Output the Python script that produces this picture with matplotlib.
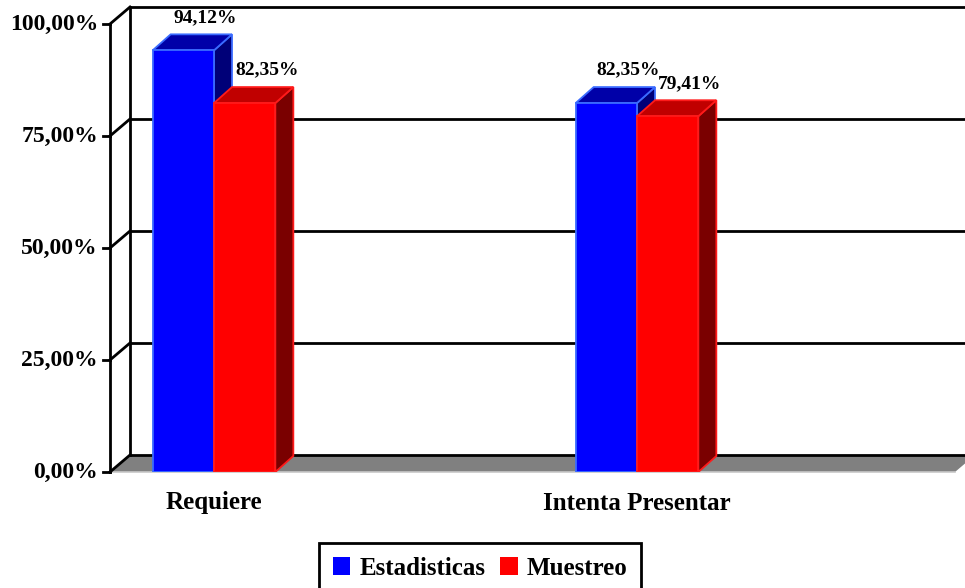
import matplotlib
matplotlib.use("Agg")
import matplotlib.pyplot as plt
from matplotlib.patches import Polygon

# ---- data ----
categories = ["Requiere", "Intenta Presentar"]
estadisticas = [94.12, 82.35]
muestreo = [82.35, 79.41]
series_names = ["Estadisticas", "Muestreo"]
yticks = [0, 25, 50, 75, 100]
ytick_labels = [f"{v:.2f}%".replace(".", ",") for v in yticks]

def pct(v):
    return f"{v:.2f}%".replace(".", ",")

W, H = 965, 588
fig = plt.figure(figsize=(W / 100, H / 100), dpi=100)
plt.rcParams["font.family"] = ["Liberation Serif", "DejaVu Serif"]

# axes geometry in pixels
ax_l, ax_r, ax_b, ax_t = 110, 965, 472, 7
ax = fig.add_axes([ax_l / W, (H - ax_b) / H, (ax_r - ax_l) / W, (ax_b - ax_t) / H])
PXU = 423.0          # pixels per category unit
PYU = 4.48           # pixels per percent
x0 = (110 - 214) / PXU
ax.set_xlim(x0, x0 + (ax_r - ax_l) / PXU)
ax.set_ylim(0, (ax_b - ax_t) / PYU)
ax.axis("off")

x_front_right = x0 + (955 - 110) / PXU
WDX, WDY = 20 / PXU, 17 / PYU       # wall depth
BDX, BDY = 18 / PXU, 16 / PYU       # bar depth
far = x0 + 30  # beyond the right edge

lw = 2.0
# floor
ax.add_patch(Polygon([(x0, 0), (x0 + WDX, WDY), (x_front_right + WDX, WDY), (x_front_right, 0)],
                     closed=True, facecolor="#808080", edgecolor="none", zorder=1, clip_on=False))
ax.plot([x0, x_front_right], [0, 0], color="#C8C8C8", lw=1.2, zorder=1.5, clip_on=False)
# back wall gridlines and left wall
for t in yticks:
    ax.plot([x0 + WDX, far], [t + WDY, t + WDY], color="black", lw=lw, zorder=2, clip_on=False)
    ax.plot([x0, x0 + WDX], [t, t + WDY], color="black", lw=lw, zorder=2, clip_on=False)
    ax.plot([x0 - 7 / PXU, x0], [t, t], color="black", lw=lw, zorder=2, clip_on=False)
ax.plot([x0, x0], [0, 100], color="black", lw=lw, zorder=2, clip_on=False, solid_capstyle="projecting")
ax.plot([x0 + WDX, x0 + WDX], [WDY, 100 + WDY], color="black", lw=lw, zorder=2, clip_on=False,
        solid_capstyle="projecting")
for t, lab in zip(yticks, ytick_labels):
    ax.text(x0 - 12 / PXU, t, lab, ha="right", va="center", fontsize=17,
            fontweight="bold", clip_on=False)

# bars
bw = 0.145
def bar3d(xl, h, front, top, side, edge, z):
    kw = dict(closed=True, edgecolor=edge, linewidth=1.3, zorder=z, joinstyle="miter")
    ax.add_patch(Polygon([(xl + bw, 0), (xl + bw + BDX, BDY), (xl + bw + BDX, h + BDY), (xl + bw, h)],
                         facecolor=side, **kw))
    ax.add_patch(Polygon([(xl, h), (xl + bw, h), (xl + bw + BDX, h + BDY), (xl + BDX, h + BDY)],
                         facecolor=top, **kw))
    ax.add_patch(Polygon([(xl, 0), (xl + bw, 0), (xl + bw, h), (xl, h)],
                         facecolor=front, **kw))

styles = [
    dict(front="#0000FF", top="#0000A8", side="#000078", edge="#3A6BFF"),
    dict(front="#FF0000", top="#C00000", side="#7A0000", edge="#FF1A1A"),
]
for i, cat in enumerate(categories):
    for j, vals in enumerate([estadisticas, muestreo]):
        xl = i - bw if j == 0 else i
        h = vals[i]
        bar3d(xl, h, z=3 + i * 2 + j, **styles[j])
        ax.text(xl + bw / 2 + 22 / PXU, h + 33 / PYU, pct(h), ha="center", va="center",
                fontsize=14, fontweight="bold", zorder=10, clip_on=False)
    ax.text(i, -31 / PYU, cat, ha="center", va="center", fontsize=18,
            fontweight="bold", clip_on=False)

# legend
handles = [plt.Rectangle((0, 0), 1, 1, facecolor=styles[k]["front"], edgecolor="none")
           for k in range(2)]
leg = fig.legend(handles, series_names, loc="upper center",
                 bbox_to_anchor=(480 / W, (H - 543) / H), ncol=2, frameon=True,
                 fancybox=False, edgecolor="black", framealpha=1,
                 prop=dict(family="Liberation Serif", weight="bold", size=18),
                 handlelength=0.7, handleheight=0.7, handletextpad=0.35,
                 columnspacing=0.6, borderpad=0.55, borderaxespad=0)
leg.get_frame().set_linewidth(2.0)

fig.savefig("out.png", dpi=100)
